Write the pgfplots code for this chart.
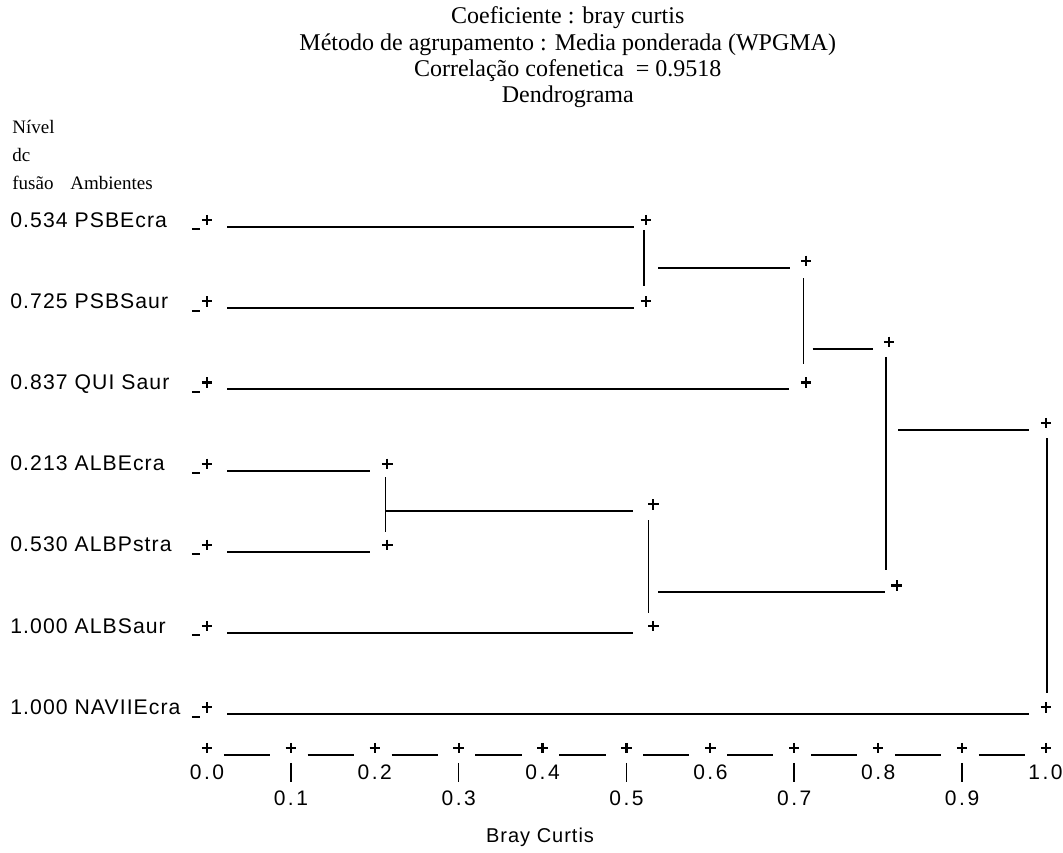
\documentclass[border=0pt]{standalone}
\usepackage{fontspec}
\setmainfont{Liberation Serif}
\newfontfamily\lsans[LetterSpace=5]{Liberation Sans}
\newfontfamily\tsans[LetterSpace=12]{Liberation Sans}
\usepackage{pgfplots}
\pgfplotsset{compat=1.18}

\tikzset{
    dline/.style={black, line width=1pt},
    vline/.style={black, line width=0.8pt},
    plus/.style={only marks, mark=+, mark size=2.6pt, mark options={line width=1.1pt}, black},
    ttl/.style={font=\fontsize{12}{12}\selectfont, anchor=center},
    hdr/.style={font=\fontsize{9.5}{9.5}\selectfont, anchor=west, inner sep=0pt},
    lab/.style={font=\lsans\fontsize{10.6}{10.6}\selectfont, anchor=base west, inner sep=0pt},
    tck/.style={font=\tsans\fontsize{10.5}{10.5}\selectfont, anchor=center},
}

\begin{document}
\begin{tikzpicture}
\begin{axis}[name=ax, scale only axis, width=531.5pt, height=426pt,
    xmin=-0.2467, xmax=1.0203, ymin=-1.7956, ymax=8.697, y dir=reverse,
    axis lines=none, clip=false, unbounded coords=jump]

% horizontal branches (x = Bray Curtis, y = row)
\addplot[dline] coordinates {
    (0.024,1) (0.509,1) (nan,nan)
    (0.024,2) (0.509,2) (nan,nan)
    (0.024,3) (0.694,3) (nan,nan)
    (0.024,4) (0.194,4) (nan,nan)
    (0.024,5) (0.194,5) (nan,nan)
    (0.024,6) (0.508,6) (nan,nan)
    (0.024,7) (0.980,7) (nan,nan)
    (0.538,1.5) (0.695,1.5) (nan,nan)
    (0.722,2.5) (0.794,2.5) (nan,nan)
    (0.213,4.5) (0.508,4.5) (nan,nan)
    (0.538,5.5) (0.808,5.5) (nan,nan)
    (0.824,3.5) (0.980,3.5) (nan,nan)
    (-0.018,1.03) (-0.008,1.03) (nan,nan)
    (-0.018,2.03) (-0.008,2.03) (nan,nan)
    (-0.018,3.03) (-0.008,3.03) (nan,nan)
    (-0.018,4.03) (-0.008,4.03) (nan,nan)
    (-0.018,5.03) (-0.008,5.03) (nan,nan)
    (-0.018,6.03) (-0.008,6.03) (nan,nan)
    (-0.018,7.03) (-0.008,7.03)
};

% vertical joins
\addplot[vline] coordinates {
    (0.521,1.04) (0.521,1.73) (nan,nan)
    (0.711,1.63) (0.711,2.69) (nan,nan)
    (0.213,4.08) (0.213,4.75) (nan,nan)
    (0.526,4.61) (0.526,5.75) (nan,nan)
    (0.809,2.60) (0.809,5.22) (nan,nan)
    (1.001,3.60) (1.001,6.74)
};

% plus signs
\addplot[plus] coordinates {
    (0,0.915) (0,1.915) (0,2.915) (0,3.915) (0,4.915) (0,5.915) (0,6.915)
    (0.523,0.915) (0.523,1.915)
    (0.714,1.415) (0.714,2.915)
    (0.215,3.915) (0.215,4.915)
    (0.532,4.415) (0.532,5.915)
    (0.813,2.415) (0.822,5.415)
    (1.0,3.415) (1.0,6.915)
};

% scale
\addplot[plus] coordinates {
    (0,7.416) (0.1,7.416) (0.2,7.416) (0.3,7.416) (0.4,7.416) (0.5,7.416)
    (0.6,7.416) (0.7,7.416) (0.8,7.416) (0.9,7.416) (1.0,7.416)
};
\addplot[dline] coordinates {
    (0.02,7.5) (0.075,7.5) (nan,nan)
    (0.12,7.5) (0.175,7.5) (nan,nan)
    (0.22,7.5) (0.275,7.5) (nan,nan)
    (0.32,7.5) (0.375,7.5) (nan,nan)
    (0.42,7.5) (0.475,7.5) (nan,nan)
    (0.52,7.5) (0.575,7.5) (nan,nan)
    (0.62,7.5) (0.675,7.5) (nan,nan)
    (0.72,7.5) (0.775,7.5) (nan,nan)
    (0.82,7.5) (0.875,7.5) (nan,nan)
    (0.92,7.5) (0.975,7.5)
};
\addplot[vline] coordinates {
    (0.1,7.60) (0.1,7.835) (nan,nan)
    (0.3,7.60) (0.3,7.835) (nan,nan)
    (0.5,7.60) (0.5,7.835) (nan,nan)
    (0.7,7.60) (0.7,7.835) (nan,nan)
    (0.9,7.60) (0.9,7.835)
};

\node[tck] at (axis cs:0.0,7.72) {0.0};
\node[tck] at (axis cs:0.2,7.72) {0.2};
\node[tck] at (axis cs:0.4,7.72) {0.4};
\node[tck] at (axis cs:0.6,7.72) {0.6};
\node[tck] at (axis cs:0.8,7.72) {0.8};
\node[tck, anchor=east, inner sep=0pt] at (axis cs:1.0203,7.72) {1.0};
\node[tck] at (axis cs:0.1,8.04) {0.1};
\node[tck] at (axis cs:0.3,8.04) {0.3};
\node[tck] at (axis cs:0.5,8.04) {0.5};
\node[tck] at (axis cs:0.7,8.04) {0.7};
\node[tck] at (axis cs:0.9,8.04) {0.9};
\node[font=\lsans\fontsize{10}{10}\selectfont] at (axis cs:0.397,8.52) {Bray Curtis};

% leaf labels
\node[lab] at (axis cs:-0.2348,1) {0.534 PSBEcra};
\node[lab] at (axis cs:-0.2348,2) {0.725 PSBSaur};
\node[lab] at (axis cs:-0.2348,3) {0.837 QUI Saur};
\node[lab] at (axis cs:-0.2348,4) {0.213 ALBEcra};
\node[lab] at (axis cs:-0.2348,5) {0.530 ALBPstra};
\node[lab] at (axis cs:-0.2348,6) {1.000 ALBSaur};
\node[lab] at (axis cs:-0.2348,7) {1.000 NAVIIEcra};

% headers
\node[hdr] at (axis cs:-0.2324,-0.2315) {Nível};
\node[hdr] at (axis cs:-0.2324,0.113) {dc};
\node[hdr] at (axis cs:-0.2324,0.458) {fusão};
\node[hdr] at (axis cs:-0.1633,0.458) {Ambientes};

% titles
\node[ttl] at (axis cs:0.430,-1.574) {Coeficiente : bray curtis};
\node[ttl] at (axis cs:0.430,-1.241) {Método de agrupamento : Media ponderada (WPGMA)};
\node[ttl] at (axis cs:0.430,-0.921) {Correlação cofenetica \ = 0.9518};
\node[ttl] at (axis cs:0.430,-0.601) {Dendrograma};
\end{axis}
\pgfresetboundingbox
\path (ax.south west) rectangle (ax.north east);
\end{tikzpicture}
\end{document}
